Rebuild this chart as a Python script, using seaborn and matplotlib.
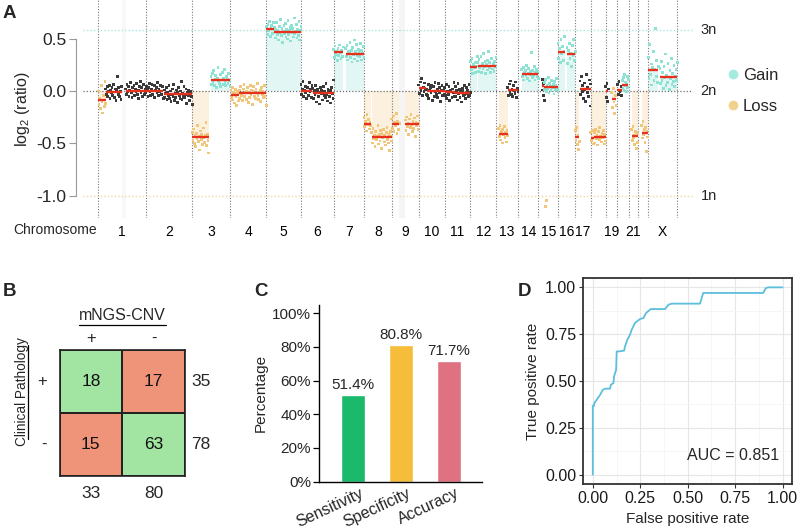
import numpy as np
import pandas as pd
import matplotlib.pyplot as plt
import seaborn as sns
from matplotlib.colors import ListedColormap
from matplotlib.lines import Line2D
from matplotlib.ticker import MultipleLocator, FuncFormatter
import matplotlib.transforms as mtransforms

sns.set_theme(style='white')
plt.rcParams['font.family'] = ['Liberation Sans', 'DejaVu Sans']
plt.rcParams['mathtext.default'] = 'regular'

W, H = 797, 532

# ---------------- panel A data ----------------
chrom_names = ['1', '2', '3', '4', '5', '6', '7', '8', '9', '10', '11', '12',
               '13', '14', '15', '16', '17', '18', '19', '20', '21', '22', 'X']
chrom_len = [249, 243, 198, 191, 181, 171, 159, 146, 141, 136, 135, 134,
             115, 107, 103, 90, 81, 78, 59, 63, 48, 51, 155]
shown_labels = ['1', '2', '3', '4', '5', '6', '7', '8', '9', '10', '11', '12',
                '13', '14', '15', '16', '17', '19', '21', 'X']

seg_chrom = ['1', '1', '1', '2', '2', '3', '3', '4', '4', '5', '5', '6', '6',
             '7', '7', '8', '8', '9', '9', '10', '10', '11', '11', '12', '12',
             '13', '13', '14', '15', '15', '15', '16', '16', '17', '17',
             '18', '18', '19', '19', '20', '20', '21', '22', 'X', 'X']
seg_start = [0, 39, 143, 0, 96, 0, 98, 5, 48, 0, 42, 0, 62, 0, 63, 0, 40,
             0, 70, 0, 42, 0, 55, 0, 37, 14, 61, 20, 20, 30, 39, 0, 47,
             0, 25, 0, 18, 0, 32, 2, 29, 15, 19, 3, 64]
seg_end = [39, 122, 249, 91, 243, 86, 198, 45, 191, 40, 181, 58, 171, 50, 159,
           35, 146, 39, 141, 40, 136, 53, 135, 35, 134, 61, 115, 107, 30, 103,
           41, 35, 90, 22, 81, 15, 78, 15, 55, 26, 60, 48, 51, 55, 155]
seg_level = [-0.09, -0.01, 0.0, 0.0, -0.03, -0.443, 0.105, -0.035, -0.02,
             0.593, 0.567, 0.0, -0.015, 0.37, 0.357, -0.313, -0.437,
             -0.318, -0.318, 0.027, 0.0, -0.01, -0.015, 0.23, 0.24,
             -0.408, 0.006, 0.166, 0.05, 0.042, -1.106, 0.373, 0.354,
             -0.44, 0.016, -0.446, -0.437, 0.0, -0.076, 0.01, 0.057,
             -0.43, -0.40, 0.198, 0.134]
seg_kind = ['Loss', 'Neutral', 'Neutral', 'Neutral', 'Neutral', 'Loss', 'Gain',
            'Loss', 'Loss', 'Gain', 'Gain', 'Neutral', 'Neutral', 'Gain', 'Gain',
            'Loss', 'Loss', 'Loss', 'Loss', 'Neutral', 'Neutral', 'Neutral',
            'Neutral', 'Gain', 'Gain', 'Loss', 'Neutral', 'Gain', 'Neutral',
            'Gain', 'Loss', 'Gain', 'Gain', 'Loss', 'Neutral', 'Loss', 'Loss',
            'Neutral', 'Loss', 'Neutral', 'Gain', 'Loss', 'Loss', 'Gain', 'Gain']
# bin deviations from the segment mean, in hundredths of log2 ratio
seg_noise = [
    "9 -4 2 -8 14 -1 -12 5 -6 18 -3",
    "3 -2 5 -4 1 6 -6 2 -1 4 -3 7 0 -5 3 -8 2 15 -2 4 -4 1 -7 5",
    "2 -3 6 -1 4 -5 1 8 -2 -6 3 0 5 -4 2 -1 7 -3 1 -7 4 9 -2 3 -5 0 6 -3 2 -1",
    "-2 4 1 -5 3 7 -1 -4 2 6 -3 0 5 -6 1 3 -2 8 -4 2 -1 5 -3 0 4 -7",
    "4 -3 1 6 -5 2 -1 8 -4 3 -7 0 5 -2 9 -6 1 -3 4 -8 2 6 -1 -4 3 12 -5 1 -2 7 -3 0 5 -9 2 -1 4 -6 3 1 -2 -10",
    "5 -3 8 -6 2 -9 4 -1 11 -4 1 -12 6 -2 3 -7 9 0 -5 2 14 -8 3 -3 -15",
    "3 -4 6 -2 9 -5 1 4 -7 2 12 -1 -3 5 -6 0 7 -4 2 10 -2 -5 3 1 -3 6 -1 -6",
    "4 -3 7 -5 2 -8 1 5 -2 -10 3 0 -6",
    "3 -5 6 -2 1 -7 4 8 -3 0 -6 2 5 -9 1 -4 7 -1 3 -11 2 6 -3 -5 4 0 9 -2 -6 1 3 -8 5 -1 2 -4 7 -3 0 -12",
    "2 -5 4 -2 7 -7 1 3 -4 6 -1",
    "4 -6 2 9 -3 1 -8 5 -1 12 -4 3 -10 0 6 -2 8 -5 2 -7 11 -3 1 4 -9 6 -1 3 -5 13 -2 0 7 -6 2 -4 10 -8 1 5",
    "6 -3 2 9 -5 1 -2 4 -7 3 0 -4 8 -1 2 -6 5",
    "4 -6 2 -2 7 -9 1 3 -4 0 -11 5 -1 2 -7 6 -3 1 -5 9 -2 -8 3 0 -4 2 -10 5 -1 -6 12",
    "3 -5 6 -2 1 -8 4 -3 7 0 -6 2 -4 5",
    "5 -3 8 -6 2 0 11 -4 3 -8 6 -1 13 -5 2 9 -2 -7 4 1 -3 10 -6 3 0 7 -4",
    "6 -3 2 -7 9 -1 4 -5 1 -2",
    "4 -6 8 -2 1 -9 5 -3 0 11 -7 2 -4 6 -11 3 -1 7 -5 1 -8 4 9 -3 -6 2 -13 5 0 -4",
    "5 -4 8 -7 2 -1 10 -9 3 -5 1",
    "4 -6 7 -2 1 -10 5 -3 9 0 -7 3 -4 6 -12 2 -1 8 -5 1",
    "3 -5 6 -2 9 -7 1 -3 5 -1 -6",
    "2 -4 6 -7 1 3 -2 5 -9 0 4 -5 8 -1 -3 2 -6 7 -2 3 -10 1 5 -4 0 2 -3",
    "4 -3 7 -6 1 -2 5 -8 2 0 -5 3 -1 9 -4",
    "6 -4 2 -7 9 -1 3 -5 0 -9 4 1 -3 7 -2 -6 5 -1 2 -4 8 -3 0",
    "5 -3 8 -6 2 -1 4 -5 1 10",
    "3 -5 6 -2 0 9 -6 2 -3 12 -1 4 -7 1 5 -4 14 -2 3 -6 7 0 -3 2 -5 4 -1 8",
    "5 -3 8 -6 2 -9 4 -1 7 -4 1 -8 3 -2",
    "3 -5 6 -2 9 -4 1 -6 5 0 -3 8 -7 2 -1",
    "4 -3 6 -6 1 3 -2 8 -5 0 5 -7 2 -1 20 -4 3 -2 7 -6 1 4 -3 2 -5",
    "-4 6 -9 2 -14",
    "4 -3 7 -5 1 -2 9 -6 3 0 -4 6 -1 2 -7 5 -3 1 8 -2 -5",
    "0 6",
    "8 -6 3 -10 12 -2 5 -8 1 15",
    "6 -9 3 10 -4 1 -12 8 -2 14 -6 2",
    "6 -3 9 -7 2 -12 -4",
    "8 -5 12 -2 4 -9 6 0 -12 14 -3 2 -7 9 -16 5",
    "5 -3 7 -6",
    "4 -6 7 -2 1 -8 5 -3 9 0 -5 3 -1 6 -7 2 -4",
    "4 -6 7 -10 2",
    "6 -8 10 -3 -14 3 -6",
    "5 -4 8 -2 3 -5",
    "4 -3 7 -5 10 -1 3 -6 2 8 -2 5",
    "6 -4 9 -2 1 -8 4 -12 3 -6 2",
    "7 -5 11 -2 3 -9 5 -18 1 -4",
    "12 -8 25 -4 6 -14 3 18 -10 1 40 -6 9 -12 4",
    "8 -6 15 -3 4 -11 10 -1 22 -8 2 -5 13 0 -12 6 -2 18 -7 3 -4 11 -9 1 7 -3 14",
]

# ---------------- panel B/C/D data ----------------
cm_counts = [[18, 17], [15, 63]]
cm_correct = [[1, 0], [0, 1]]
row_totals = [35, 78]
col_totals = [33, 80]

metric_names = ['Sensitivity', 'Specificity', 'Accuracy']
metric_values = [51.4, 80.8, 71.7]
metric_colors = ['#1bb96b', '#f6bd3b', '#e07180']

roc_fpr = [0, 0, 0.007, 0.007, 0.021, 0.039, 0.053, 0.065, 0.091, 0.095,
           0.109, 0.112, 0.123, 0.126, 0.140, 0.165, 0.170, 0.182, 0.196, 0.205,
           0.223, 0.235, 0.249, 0.267, 0.281, 0.305, 0.381, 0.398, 0.416, 0.565,
           0.574, 0.582, 0.898, 0.912, 0.925, 1.0]
roc_tpr = [0, 0.368, 0.368, 0.38, 0.40, 0.427, 0.453, 0.459, 0.459, 0.48,
           0.489, 0.524, 0.56, 0.658, 0.658, 0.662, 0.685, 0.72, 0.747, 0.774,
           0.81, 0.82, 0.831, 0.836, 0.863, 0.884, 0.884, 0.907, 0.913, 0.913,
           0.943, 0.97, 0.97, 0.996, 1.0, 1.0]
auc_value = 0.851


def px(l, t, r, b):
    return [l / W, 1 - b / H, (r - l) / W, (b - t) / H]


fig = plt.figure(figsize=(W / 100, H / 100), dpi=100)

# ================= A: copy number profile =================
offset = dict(zip(chrom_names, np.concatenate([[0], np.cumsum(chrom_len)[:-1]])))
genome_end = sum(chrom_len)

pos, ratio, kind = [], [], []
for c, a, b, lev, k, noise in zip(seg_chrom, seg_start, seg_end, seg_level, seg_kind, seg_noise):
    r = np.array(noise.split(), dtype=float) / 100
    pos += list(offset[c] + np.linspace(a, b, len(r)))
    ratio += list(lev + r)
    kind += [k] * len(r)
dots = pd.DataFrame({'pos': pos, 'ratio': ratio, 'kind': kind})

axA = fig.add_axes(px(76, 0, 693, 218))
x_left, x_right = -117, 3116
axA.set_xlim(x_left, x_right)
axA.set_ylim(-1.214, 0.87)

# heterochromatin gaps
axA.axvspan(offset['1'] + 122, offset['1'] + 143, color='#f8f8f8', lw=0, zorder=0)
axA.axvspan(offset['9'] + 40, offset['9'] + 70, color='#f5f5f5', lw=0, zorder=0)

shade = {'Gain': '#e2f7f4', 'Loss': '#fcf0de'}
for c, a, b, lev, k in zip(seg_chrom, seg_start, seg_end, seg_level, seg_kind):
    if k in shade:
        axA.fill_between([offset[c] + a, offset[c] + b], 0, lev, color=shade[k], lw=0, zorder=1)

bounds = list(offset.values()) + [genome_end]
for bx in bounds:
    axA.axvline(bx, color='#7a7a7a', ls=(0, (1, 1.5)), lw=0.8, zorder=2)
axA.hlines(0, -80, x_right, colors='#6e6e6e', linestyles=(0, (1, 1.5)), lw=0.9, zorder=2)
axA.hlines(np.log2(1.5), -80, x_right, colors='#a8eae0', linestyles=(0, (1, 1.5)), lw=1, zorder=2)
axA.hlines(-1.0, -80, x_right, colors='#f4d7a6', linestyles=(0, (1, 1.5)), lw=1, zorder=2)

sns.scatterplot(data=dots, x='pos', y='ratio', hue='kind',
                palette={'Gain': '#8ee2d4', 'Loss': '#f0c77a', 'Neutral': '#3a3a3a'},
                s=4, marker='s', linewidth=0, legend=False, ax=axA, zorder=3)

x0 = [offset[c] + a for c, a in zip(seg_chrom, seg_start)]
x1 = [offset[c] + b for c, b in zip(seg_chrom, seg_end)]
axA.hlines(seg_level, x0, x1, colors='#e6321d', lw=1.7, zorder=4)

mids = [offset[c] + L / 2 for c, L in zip(chrom_names, chrom_len) if c in shown_labels]
axA.set_xticks(mids)
axA.set_xticklabels(shown_labels, fontsize=10)
axA.tick_params(axis='x', length=0, pad=5, colors='black')
axA.set_yticks([0.5, 0.0, -0.5, -1.0])
axA.set_yticklabels(['0.5', '0.0', '-0.5', '-1.0'], fontsize=12.5)
axA.tick_params(axis='y', length=5, width=0.8, color='#999999', pad=2, left=True)
axA.set_xlabel('')
axA.set_ylabel('log$_2$ (ratio)', fontsize=11.5, labelpad=3)
for s in ['top', 'right', 'bottom']:
    axA.spines[s].set_visible(False)
axA.spines['left'].set_bounds(-1.0, 0.5)
axA.spines['left'].set_color('#999999')
axA.spines['left'].set_linewidth(0.8)
axA.patch.set_alpha(0)

trans = mtransforms.blended_transform_factory(axA.transAxes, axA.transData)
for lab, yv in [('3n', np.log2(1.5)), ('2n', 0.0), ('1n', -1.0)]:
    axA.text(1.012, yv, lab, transform=trans, va='center', ha='left', fontsize=10.5, clip_on=False)

fig.text(13 / W, 1 - 230 / H, 'Chromosome', fontsize=10, va='center', ha='left')

handles = [Line2D([], [], marker='o', ls='', color='#a3ebde', markersize=6),
           Line2D([], [], marker='o', ls='', color='#f2d08e', markersize=6)]
fig.legend(handles, ['Gain', 'Loss'], loc='center left',
           bbox_to_anchor=(726 / W, 1 - 91 / H), frameon=False, fontsize=12,
           handletextpad=0.2, labelspacing=1.0, handlelength=0.8,
           borderpad=0, borderaxespad=0)

# ================= B: confusion matrix =================
axB = fig.add_axes(px(59.5, 350, 185, 476))
sns.heatmap(np.array(cm_correct), cmap=ListedColormap(['#ef9479', '#a2e4a1']),
            annot=np.array(cm_counts), fmt='d', cbar=False, linewidths=1.2,
            linecolor='#222222', square=False, ax=axB,
            xticklabels=['+', '-'], yticklabels=['+', '-'],
            annot_kws={'fontsize': 12.5, 'color': '#111111'})
for sp in axB.spines.values():
    sp.set_visible(True)
    sp.set_color('#222222')
    sp.set_linewidth(1.2)
axB.xaxis.tick_top()
axB.tick_params(axis='x', length=0, pad=3, labelsize=12)
axB.tick_params(axis='y', length=0, pad=9, labelsize=12, rotation=0)
for i, t in enumerate(row_totals):
    axB.text(2.1, i + 0.5, str(t), ha='left', va='center', fontsize=12.5, clip_on=False)
for j, t in enumerate(col_totals):
    axB.text(j + 0.5, 2.27, str(t), ha='center', va='center', fontsize=12.5, clip_on=False)

fig.text(122 / W, 1 - 316 / H, 'mNGS-CNV', ha='center', va='center', fontsize=11.5)
fig.add_artist(Line2D([79 / W, 166 / W], [1 - 325 / H, 1 - 325 / H], color='black', lw=0.9))
fig.text(22 / W, 1 - 392 / H, 'Clinical Pathology', ha='center', va='center',
         rotation=90, fontsize=9.8)
fig.add_artist(Line2D([27.5 / W, 27.5 / W], [1 - 345 / H, 1 - 439 / H], color='black', lw=0.9))

# ================= C: performance bars =================
axC = fig.add_axes(px(319.3, 305, 481.7, 481.7))
sns.barplot(x=metric_names, y=metric_values, hue=metric_names, palette=metric_colors,
            width=0.51, saturation=1, legend=False, ax=axC)
axC.set_xlim(-0.71, 2.69)
axC.set_ylim(0, 104.8)
axC.set_yticks([0, 20, 40, 60, 80, 100])
axC.yaxis.set_major_formatter(FuncFormatter(lambda v, p: f'{v:.0f}%'))
for i, v in enumerate(metric_values):
    axC.text(i, v + 1.8, f'{v:.1f}%', ha='center', va='bottom', fontsize=11)
axC.set_ylabel('Percentage', fontsize=11, labelpad=3)
axC.tick_params(axis='y', length=4, width=0.9, color='black', labelsize=11, pad=2, left=True)
axC.tick_params(axis='x', length=0, labelsize=11.5, pad=3)
plt.setp(axC.get_xticklabels(), rotation=25, ha='right', rotation_mode='anchor')
for lab in axC.get_xticklabels():
    lab.set_transform(lab.get_transform() + mtransforms.ScaledTranslation(6 / 100, 0, fig.dpi_scale_trans))
for s in ['top', 'right']:
    axC.spines[s].set_visible(False)
for s in ['left', 'bottom']:
    axC.spines[s].set_color('black')
    axC.spines[s].set_linewidth(1.0)

# ================= D: ROC curve =================
axD = fig.add_axes(px(583.3, 278, 792, 484))
axD.set_facecolor('white')
sns.lineplot(x=roc_fpr, y=roc_tpr, sort=False, estimator=None, color='#5cbfdc', lw=1.3, ax=axD)
axD.set_xlim(-0.05, 1.05)
axD.set_ylim(-0.05, 1.05)
for ax_ in (axD.xaxis, axD.yaxis):
    ax_.set_major_locator(MultipleLocator(0.25))
    ax_.set_minor_locator(MultipleLocator(0.125))
    ax_.set_major_formatter(FuncFormatter(lambda v, p: f'{v:.2f}'))
axD.grid(which='major', color='#e6e6e6', lw=0.8)
axD.grid(which='minor', color='#f3f3f3', lw=0.5)
axD.set_axisbelow(True)
axD.tick_params(which='minor', length=0)
axD.tick_params(which='major', length=3, width=0.8, color='#333333', labelsize=11.5,
                pad=2, left=True, bottom=True, labelcolor='#1a1a1a')
for sp in axD.spines.values():
    sp.set_visible(True)
    sp.set_color('#333333')
    sp.set_linewidth(1.3)
axD.set_xlabel('False positive rate', fontsize=11, labelpad=4)
axD.set_ylabel('True positive rate', fontsize=11, labelpad=4)
axD.text(0.98, 0.1, f'AUC = {auc_value}', ha='right', va='center', fontsize=11.5)

# panel letters
for lab, x, y in [('A', 3, 13), ('B', 3, 292), ('C', 254, 292), ('D', 518, 292)]:
    fig.text(x / W, 1 - y / H, lab, fontsize=13.5, fontweight='bold', va='center', ha='left')

fig.savefig('out.png', dpi=100)
